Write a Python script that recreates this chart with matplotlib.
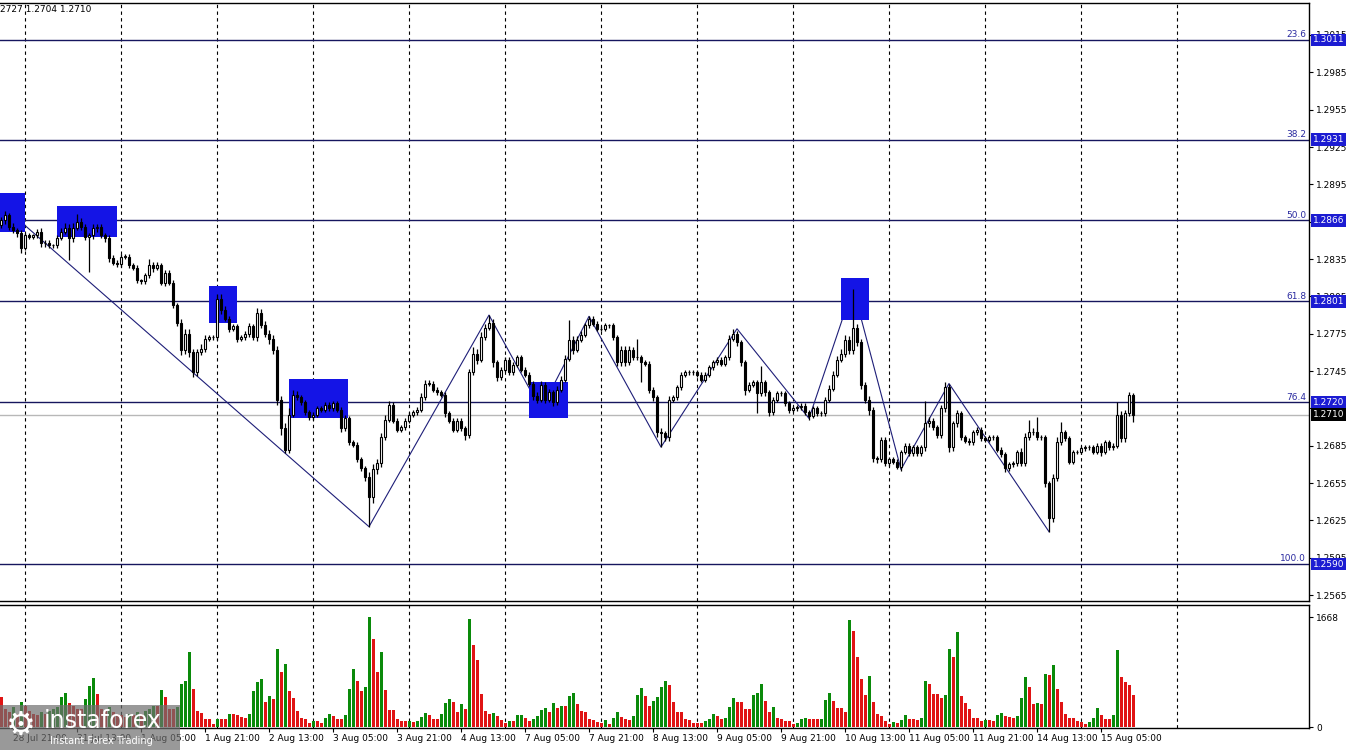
import numpy as np
import matplotlib.pyplot as plt
import matplotlib.transforms as mtransforms
from matplotlib import rc
from matplotlib.patches import Rectangle

rc('font', family='DejaVu Sans', size=6.5)

# %% data: GBPUSD H1, 28 Jul 18:00 .. 15 Aug 13:00, one row per trading day --|
close_rows = [
    [1.2866, 1.2870, 1.2861, 1.2858, 1.2856, 1.2844],  # 28 Jul (tail)
    [1.2854, 1.2853, 1.2854, 1.2857, 1.2848, 1.2848, 1.2846, 1.2846,
     1.2852, 1.2857, 1.2860, 1.2852, 1.2860, 1.2865, 1.2861, 1.2853,
     1.2854, 1.2860, 1.2861, 1.2854, 1.2852, 1.2836, 1.2832, 1.2831],  # 31 Jul
    [1.2837, 1.2837, 1.2830, 1.2828, 1.2818, 1.2817, 1.2822, 1.2830,
     1.2828, 1.2830, 1.2816, 1.2824, 1.2816, 1.2798, 1.2784, 1.2762,
     1.2775, 1.2760, 1.2744, 1.2760, 1.2763, 1.2771, 1.2772, 1.2772],  # 1 Aug
    [1.2803, 1.2794, 1.2787, 1.2779, 1.2781, 1.2771, 1.2772, 1.2775,
     1.2781, 1.2772, 1.2792, 1.2782, 1.2775, 1.2771, 1.2762, 1.2722,
     1.2699, 1.2682, 1.2710, 1.2726, 1.2724, 1.2720, 1.2712, 1.2708],  # 2 Aug
    [1.2710, 1.2715, 1.2714, 1.2718, 1.2715, 1.2719, 1.2714, 1.2699,
     1.2707, 1.2688, 1.2686, 1.2674, 1.2667, 1.2660, 1.2644, 1.2666,
     1.2671, 1.2692, 1.2706, 1.2718, 1.2705, 1.2698, 1.2700, 1.2705],  # 3 Aug
    [1.2710, 1.2712, 1.2714, 1.2724, 1.2735, 1.2735, 1.2730, 1.2728,
     1.2726, 1.2711, 1.2705, 1.2698, 1.2705, 1.2699, 1.2694, 1.2744,
     1.2759, 1.2754, 1.2772, 1.2780, 1.2784, 1.2752, 1.2740, 1.2746],  # 4 Aug
    [1.2754, 1.2744, 1.2750, 1.2756, 1.2746, 1.2742, 1.2735, 1.2725,
     1.2722, 1.2734, 1.2722, 1.2728, 1.2720, 1.2730, 1.2738, 1.2755,
     1.2770, 1.2762, 1.2770, 1.2774, 1.2782, 1.2787, 1.2783, 1.2779],  # 7 Aug
    [1.2779, 1.2782, 1.2782, 1.2772, 1.2752, 1.2762, 1.2752, 1.2762,
     1.2756, 1.2756, 1.2752, 1.2751, 1.2730, 1.2724, 1.2696, 1.2695,
     1.2692, 1.2722, 1.2724, 1.2732, 1.2742, 1.2744, 1.2744, 1.2744],  # 8 Aug
    [1.2742, 1.2738, 1.2742, 1.2748, 1.2752, 1.2754, 1.2751, 1.2756,
     1.2771, 1.2775, 1.2768, 1.2752, 1.2730, 1.2734, 1.2736, 1.2727,
     1.2736, 1.2728, 1.2712, 1.2722, 1.2727, 1.2727, 1.2719, 1.2714],  # 9 Aug
    [1.2715, 1.2716, 1.2717, 1.2712, 1.2709, 1.2715, 1.2711, 1.2711,
     1.2722, 1.2731, 1.2742, 1.2754, 1.2759, 1.2770, 1.2762, 1.2780,
     1.2768, 1.2734, 1.2722, 1.2714, 1.2675, 1.2674, 1.2690, 1.2671],  # 10 Aug
    [1.2674, 1.2672, 1.2668, 1.2680, 1.2685, 1.2679, 1.2684, 1.2679,
     1.2684, 1.2703, 1.2705, 1.2700, 1.2694, 1.2715, 1.2732, 1.2684,
     1.2703, 1.2711, 1.2692, 1.2689, 1.2688, 1.2696, 1.2698, 1.2691],  # 11 Aug
    [1.2690, 1.2692, 1.2692, 1.2682, 1.2678, 1.2667, 1.2670, 1.2671,
     1.2680, 1.2671, 1.2692, 1.2696, 1.2696, 1.2692, 1.2692, 1.2655,
     1.2627, 1.2659, 1.2688, 1.2696, 1.2691, 1.2672, 1.2680, 1.2680],  # 14 Aug
    [1.2683, 1.2684, 1.2684, 1.2680, 1.2685, 1.2680, 1.2688, 1.2684,
     1.2685, 1.2710, 1.2691, 1.2711, 1.2726, 1.2710],  # 15 Aug
]
first_open = 1.2862

# wick lengths beyond the body, in pips
up_rows = [
    [3, 4, 2, 3, 2, 2],
    [2, 2, 1, 2, 3, 2, 2, 1, 2, 3, 4, 3, 4, 6, 3, 2, 2, 3, 2, 2, 2, 2, 2, 2],
    [2, 2, 2, 2, 2, 1, 2, 5, 3, 3, 2, 2, 2, 2, 2, 3, 4, 4, 3, 3, 4, 3, 2, 2],
    [4, 4, 3, 2, 2, 2, 2, 2, 3, 2, 4, 3, 3, 3, 3, 3, 3, 4, 5, 4, 3, 2, 2, 2],
    [2, 2, 2, 2, 2, 2, 2, 2, 3, 2, 2, 2, 2, 2, 4, 4, 3, 3, 4, 3, 2, 2, 2, 2],
    [2, 2, 2, 3, 3, 3, 2, 2, 2, 2, 2, 2, 2, 2, 2, 3, 5, 4, 4, 3, 6, 3, 2, 2],
    [2, 2, 2, 2, 2, 2, 2, 2, 3, 3, 2, 3, 2, 3, 3, 3, 16, 3, 3, 3, 2, 2, 2, 2],
    [2, 2, 1, 2, 2, 3, 3, 3, 2, 15, 2, 2, 2, 2, 2, 3, 2, 3, 2, 2, 2, 2, 2, 2],
    [2, 2, 2, 2, 2, 2, 2, 2, 3, 4, 2, 2, 2, 2, 2, 2, 13, 2, 2, 2, 2, 2, 2, 2],
    [2, 2, 2, 2, 2, 2, 2, 2, 2, 3, 3, 3, 4, 4, 3, 31, 3, 3, 2, 3, 2, 2, 2, 2],
    [2, 2, 2, 2, 2, 2, 2, 2, 2, 18, 3, 2, 2, 3, 4, 3, 2, 3, 2, 2, 2, 2, 2, 2],
    [2, 2, 2, 2, 2, 2, 2, 2, 2, 3, 3, 10, 3, 12, 2, 2, 2, 3, 4, 8, 2, 2, 2, 2],
    [2, 2, 2, 2, 2, 2, 2, 2, 2, 10, 3, 3, 2, 1],
]
dn_rows = [
    [2, 3, 3, 2, 3, 4],
    [2, 2, 2, 2, 3, 3, 2, 2, 2, 2, 2, 18, 3, 2, 3, 3, 28, 3, 3, 2, 3, 3, 2, 2],
    [2, 2, 2, 2, 2, 2, 2, 2, 3, 2, 2, 3, 2, 2, 3, 4, 3, 4, 4, 3, 2, 3, 2, 2],
    [2, 3, 2, 3, 2, 3, 2, 2, 3, 2, 3, 2, 3, 4, 3, 4, 5, 3, 3, 2, 2, 2, 2, 2],
    [2, 2, 2, 2, 2, 2, 2, 3, 2, 2, 2, 2, 2, 3, 24, 5, 4, 3, 2, 2, 2, 2, 2, 2],
    [2, 2, 2, 2, 2, 2, 2, 2, 2, 3, 2, 2, 2, 2, 4, 3, 2, 3, 2, 2, 2, 4, 3, 2],
    [2, 2, 2, 2, 2, 2, 2, 3, 3, 2, 3, 2, 3, 2, 2, 2, 2, 3, 2, 2, 2, 2, 2, 2],
    [2, 2, 2, 2, 3, 3, 3, 2, 2, 2, 16, 2, 3, 3, 4, 11, 3, 3, 2, 2, 2, 2, 2, 2],
    [2, 2, 2, 2, 2, 2, 2, 2, 2, 2, 3, 3, 4, 2, 2, 16, 2, 3, 3, 2, 2, 2, 2, 3],
    [2, 2, 2, 2, 3, 2, 2, 2, 2, 2, 2, 2, 2, 3, 3, 3, 3, 3, 3, 4, 3, 3, 2, 2],
    [2, 2, 2, 3, 2, 2, 2, 2, 2, 3, 3, 2, 3, 3, 3, 4, 3, 3, 2, 2, 2, 2, 2, 2],
    [2, 2, 2, 2, 2, 3, 2, 2, 2, 2, 2, 2, 2, 2, 2, 3, 11, 3, 2, 2, 2, 2, 2, 2],
    [2, 2, 2, 2, 2, 3, 2, 2, 2, 2, 3, 3, 2, 6],
]

vol_rows = [
    [450, 275, 225, 300, 200, 375],
    [325, 250, 200, 175, 225, 200, 250, 275, 300, 450, 510, 360,
     325, 275, 275, 425, 615, 740, 500, 275, 250, 300, 225, 200],
    [175, 150, 200, 175, 225, 200, 250, 275, 325, 325, 565, 450,
     275, 275, 300, 650, 700, 1140, 575, 240, 215, 115, 115, 50],
    [125, 125, 115, 200, 200, 185, 150, 140, 200, 550, 675, 725,
     385, 470, 425, 1190, 835, 950, 550, 440, 250, 140, 115, 65],
    [90, 90, 65, 140, 190, 165, 115, 115, 175, 575, 875, 700,
     550, 610, 1668, 1340, 835, 1135, 565, 260, 260, 115, 85, 85],
    [90, 75, 90, 150, 210, 185, 125, 125, 200, 365, 425, 375,
     225, 350, 275, 1640, 1250, 1010, 500, 240, 190, 215, 160, 100],
    [65, 90, 90, 175, 185, 140, 85, 125, 160, 265, 290, 235,
     360, 285, 315, 315, 465, 515, 350, 240, 225, 115, 110, 75],
    [65, 105, 40, 140, 225, 150, 125, 100, 160, 485, 585, 475,
     325, 400, 460, 610, 700, 635, 385, 225, 225, 125, 110, 65],
    [65, 65, 90, 125, 200, 160, 125, 140, 310, 440, 385, 375,
     275, 275, 490, 510, 650, 400, 225, 300, 140, 125, 90, 90],
    [50, 65, 115, 135, 115, 115, 115, 125, 415, 515, 400, 285,
     285, 225, 1615, 1450, 1065, 725, 485, 775, 375, 200, 165, 85],
    [50, 75, 65, 110, 185, 125, 125, 110, 140, 700, 650, 500,
     500, 440, 485, 1190, 1060, 1435, 475, 365, 275, 140, 140, 85],
    [100, 100, 85, 175, 215, 160, 150, 135, 160, 440, 760, 610,
     350, 365, 350, 800, 785, 935, 575, 385, 200, 140, 140, 85],
    [75, 50, 75, 140, 290, 185, 125, 125, 185, 1165, 765, 685, 635, 485],
]

# fibonacci grid
fib_names = ['23.6', '38.2', '50.0', '61.8', '76.4', '100.0']
fib_prices = [1.3011, 1.2931, 1.2866, 1.2801, 1.2720, 1.2590]
last_price = 1.2710

# zigzag pivots (bar index, price)
zz_bars = [6, 92, 122, 135, 147, 165, 184, 202, 213, 225, 237, 262]
zz_prices = [1.2862, 1.2620, 1.2790, 1.2714, 1.2789, 1.2684, 1.2779,
             1.2707, 1.2812, 1.2666, 1.2735, 1.2616]

# blue zones: first bar, last bar, bottom price, top price
box_x0 = [-0.5, 14.0, 52.0, 72.0, 132.0, 210.0]
box_x1 = [6.0, 29.0, 59.0, 86.75, 141.75, 217.0]
box_lo = [1.2857, 1.2853, 1.2784, 1.2707, 1.2707, 1.2786]
box_hi = [1.2888, 1.2878, 1.2813, 1.2739, 1.2736, 1.2820]

day_bars = [6, 30, 54, 78, 102, 126, 150, 174, 198, 222, 246, 270, 294]
label_bars = [3, 19, 35, 51, 67, 83, 99, 115, 131, 147, 163, 179, 195,
              211, 227, 243, 259, 275]
label_text = ['28 Jul 21:00', '31 Jul 13:00', '1 Aug 05:00', '1 Aug 21:00',
              '2 Aug 13:00', '3 Aug 05:00', '3 Aug 21:00', '4 Aug 13:00',
              '7 Aug 05:00', '7 Aug 21:00', '8 Aug 13:00', '9 Aug 05:00',
              '9 Aug 21:00', '10 Aug 13:00', '11 Aug 05:00', '11 Aug 21:00',
              '14 Aug 13:00', '15 Aug 05:00']
price_ticks = [1.2565, 1.2595, 1.2625, 1.2655, 1.2685, 1.2715, 1.2745,
               1.2775, 1.2805, 1.2835, 1.2865, 1.2895, 1.2925, 1.2955,
               1.2985, 1.3015]

# %% build OHLC ---------------------------------------------------------------|
close = np.array(sum(close_rows, []))
opn = np.r_[first_open, close[:-1]]
high = np.maximum(opn, close) + np.array(sum(up_rows, []))/1e4
low = np.minimum(opn, close) - np.array(sum(dn_rows, []))/1e4
vol = np.array(sum(vol_rows, []))
x = np.arange(len(close))

W, H = 1350, 750
fig = plt.figure(figsize=(W/100, H/100), dpi=100)
ax = fig.add_axes([0, 1 - 601/H, 1309/W, 598/H])
axv = fig.add_axes([0, 1 - 728/H, 1309/W, 123/H])

for a in (ax, axv):
    a.set_xlim(-0.25, 327)
    a.spines['left'].set_visible(False)
    for s in ('right', 'top', 'bottom'):
        a.spines[s].set_linewidth(1.0)
    for d in day_bars:
        a.axvline(d, color='black', lw=0.8, ls=(0, (3, 3)), zorder=0.5)
    a.tick_params(axis='y', left=False, labelleft=False, right=True,
                  labelright=True, length=3, pad=2, labelsize=6.5)

ax.set_ylim(1.25603, 1.30407)
ax.set_xticks([])
ax.set_yticks(price_ticks)
ax.yaxis.set_major_formatter(plt.FormatStrFormatter('%.4f'))

# fib lines, zones, zigzag
trans = mtransforms.blended_transform_factory(ax.transAxes, ax.transData)
for name, p in zip(fib_names, fib_prices):
    ax.axhline(p, color='#16165e', lw=1.0, zorder=0.8)
    ax.annotate(name, xy=(1, p), xycoords=trans, xytext=(-2, 0.5),
                textcoords='offset points', ha='right', va='bottom',
                color='#2a2aa0', fontsize=6.5)
    ax.text(1.003, p, '%.4f' % p, transform=trans, color='white',
            ha='left', va='center', fontsize=6.5, clip_on=False, zorder=10,
            bbox=dict(boxstyle='square,pad=0.2', fc='#1c1cd2', ec='none'))
ax.axhline(last_price, color='#b8b8b8', lw=1.0, zorder=0.8)
ax.text(1.003, last_price, '%.4f' % last_price, transform=trans,
        color='white', ha='left', va='center', fontsize=6.5, clip_on=False,
        zorder=10, bbox=dict(boxstyle='square,pad=0.2', fc='black', ec='none'))

ax.plot(zz_bars, zz_prices, color='#1e1e78', lw=0.8, zorder=0.9)
for x0, x1, lo, hi in zip(box_x0, box_x1, box_lo, box_hi):
    ax.add_patch(Rectangle((x0, lo), x1 - x0, hi - lo, fc='#1414e6',
                           ec='none', zorder=1))

# candles
bull = close >= opn
body_lo = np.minimum(opn, close)
body_h = np.maximum(np.abs(close - opn), 0.00002)
ax.vlines(x, low, high, color='black', lw=0.9, zorder=2)
ax.bar(x[bull], body_h[bull], bottom=body_lo[bull], width=0.72,
       color='white', edgecolor='black', lw=0.8, zorder=3)
ax.bar(x[~bull], body_h[~bull], bottom=body_lo[~bull], width=0.72,
       color='black', edgecolor='black', lw=0.8, zorder=3)

# volumes: green when above previous bar
rising = np.r_[False, vol[1:] > vol[:-1]]
vcol = np.where(rising, '#0a8a0a', '#e01414')
axv.bar(x, vol, width=0.75, color=vcol, zorder=2)
axv.set_ylim(-15, 1850)
axv.set_yticks([0, 1668])
axv.set_xticks(label_bars)
axv.set_xticklabels(label_text)
axv.tick_params(axis='x', length=3, pad=1, labelsize=6.5)
for lbl in axv.get_xticklabels():
    lbl.set_ha('left')

fig.text(0.0, 1 - 10/H, '2727 1.2704 1.2710', fontsize=6.5, va='center')

# watermark
fig.patches.append(Rectangle((0, 0), 180/W, 45/H, transform=fig.transFigure,
                             fc='#6e6e6e', alpha=0.7, ec='none', zorder=20))
fig.text(6/W, 1 - 725/H, '\u2699', color='white', fontsize=24,
         va='center', zorder=21)
fig.text(44/W, 1 - 721/H, 'instaforex', color='white', fontsize=17,
         va='center', zorder=21)
fig.text(50/W, 1 - 741/H, 'Instant Forex Trading', color='white',
         fontsize=7, va='center', zorder=21)

plt.savefig('out.png', dpi=100)
